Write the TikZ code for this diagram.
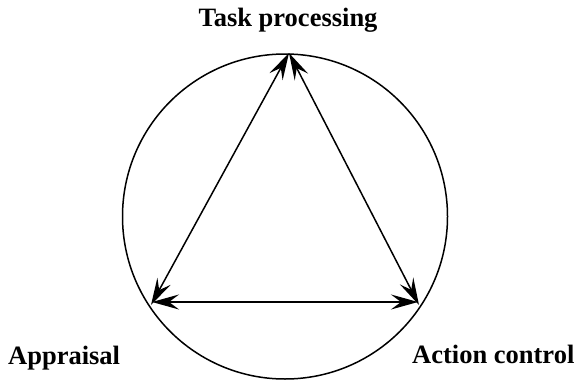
\documentclass[tikz,border=0pt]{standalone}
\usepackage{fontspec}
\setmainfont{Liberation Serif}
\usetikzlibrary{arrows.meta}
\begin{document}
\begin{tikzpicture}[x=1pt,y=-1pt,
  ring/.style={line width=1.5pt},
  link/.style={line width=1.5pt,{Stealth[length=27pt,width=15pt,inset=10pt]}-{Stealth[length=27pt,width=15pt,inset=10pt]}},
  label/.style={font=\bfseries\fontsize{26.5}{30}\selectfont,inner sep=0pt}]
  \useasboundingbox (0,0) rectangle (583,380);
  % circle
  \draw[ring] (285,216.5) circle[radius=162.5];
  % corners of the triangle
  \coordinate (T) at (289,53);
  \coordinate (L) at (151,305);
  \coordinate (R) at (419,305);
  \coordinate (Lh) at (152,302);
  \coordinate (Rh) at (418,302);
  % double-headed links
  \draw[link] (T) -- (L);
  \draw[link] (T) -- (R);
  \draw[link] (Lh) -- (Rh);
  % labels
  \node[label,anchor=base] (task) at (288,26) {Task processing};
  \node[label,anchor=base west] (appr) at (8,364) {Appraisal};
  \node[label,anchor=base west] (act) at (412,363) {Action control};
\end{tikzpicture}
\end{document}
